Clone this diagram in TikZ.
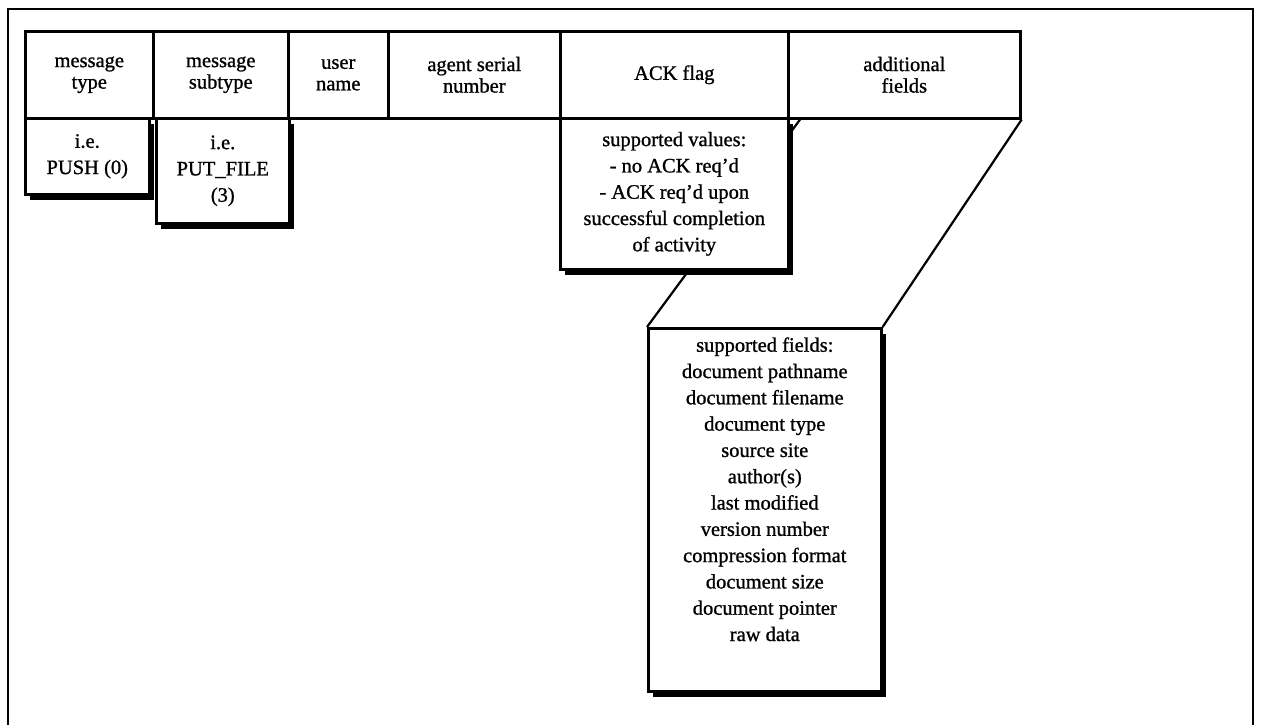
\documentclass[tikz,border=0pt]{standalone}
\usepackage{fontspec}
\setmainfont{Liberation Serif}[FakeBold=1]
\usetikzlibrary{shadows,backgrounds}
\begin{document}
\begin{tikzpicture}[x=1pt,y=-1pt,
  hdr/.style={draw, line width=2.6pt, anchor=north west, align=center,
    inner sep=0pt, font=\fontsize{20.5}{21.5}\selectfont},
  valbox/.style={draw, line width=2.6pt, fill=white, anchor=north west,
    align=center, inner sep=0pt, font=\fontsize{20.5}{26.3}\selectfont,
    drop shadow={shadow xshift=5pt, shadow yshift=-6pt, fill=black, opacity=1}},
  link/.style={line width=2.2pt},
  frame/.style={line width=1.8pt}]
\useasboundingbox (0,0) rectangle (1261,724);

% outer frame (open at the bottom)
\coordinate (fbl) at (8,730);
\coordinate (ftl) at (8,9);
\coordinate (ftr) at (1253,9);
\coordinate (fbr) at (1253,730);
\draw[frame] (fbl) -- (ftl) -- (ftr) -- (fbr);

% message header fields
\node[hdr, minimum width=128pt, minimum height=87pt] (mt)  at (24,30)  {message\\type};
\node[hdr, minimum width=135pt, minimum height=87pt] (mst) at (152,30) {message\\subtype};
\node[hdr, minimum width=100pt, minimum height=87pt] (un)  at (287,30) {user\\name};
\node[hdr, minimum width=172pt, minimum height=87pt] (asn) at (387,30) {agent serial\\number};
\node[hdr, minimum width=228pt, minimum height=87pt] (ack) at (559,30) {ACK flag};
\node[hdr, minimum width=232pt, minimum height=87pt] (af)  at (787,30) {additional\\fields};

% value boxes under the fields
\node[valbox, minimum width=124pt, minimum height=76pt] (push) at (24,117) {i.e.\\PUSH (0)};
\node[valbox, minimum width=133pt, minimum height=105pt] (putf) at (155,117) {i.e.\\PUT\_FILE\\(3)};
\node[valbox, minimum width=228pt, minimum height=151pt] (ackv) at (559,117)
  {supported values:\\- no ACK req'd\\- ACK req'd upon\\successful completion\\of activity};
\node[valbox] (sf) at (647,327)
  {\parbox[c][363pt][t]{233pt}{\centering\vspace*{9pt}supported fields:\\
   document pathname\\document filename\\document type\\source site\\author(s)\\
   last modified\\version number\\compression format\\document size\\
   document pointer\\raw data}};

% expansion lines from the additional fields to their list
\coordinate (afbl) at ([xshift=13pt]af.south west);
\begin{pgfonlayer}{background}
\draw[link] (afbl) -- (sf.north west);
\draw[link] (af.south east) -- (sf.north east);
\end{pgfonlayer}
\end{tikzpicture}
\end{document}
